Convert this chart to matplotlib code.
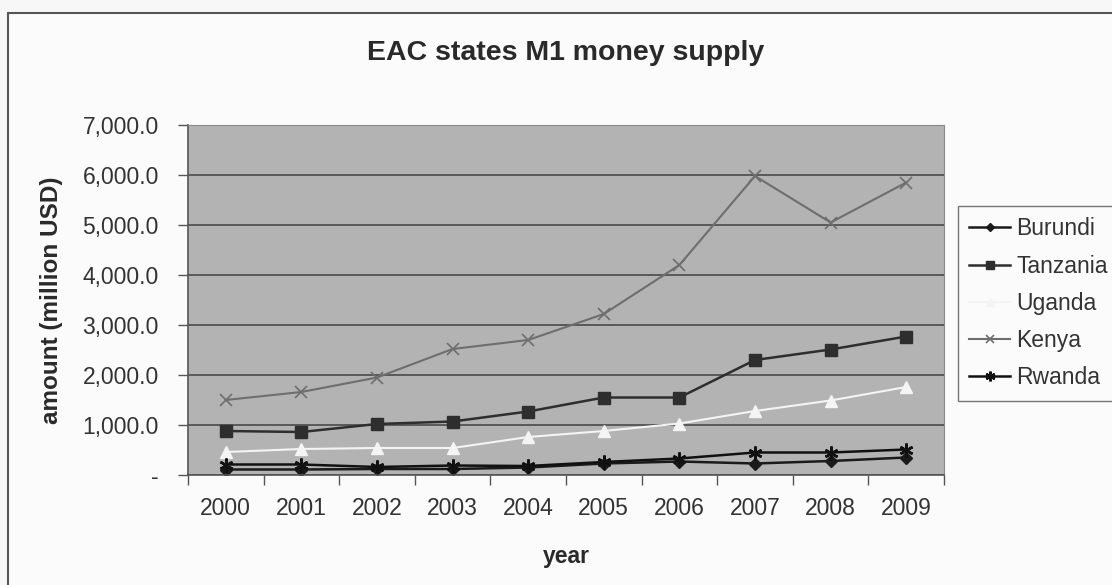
import matplotlib.pyplot as plt
from matplotlib.patches import Rectangle
from matplotlib.ticker import FuncFormatter, FixedLocator, NullFormatter

plt.rcParams['font.family'] = ['Liberation Sans', 'DejaVu Sans']

years = ['2000', '2001', '2002', '2003', '2004', '2005', '2006', '2007', '2008', '2009']
burundi = [110, 110, 120, 120, 150, 230, 270, 230, 280, 350]
tanzania = [880, 860, 1020, 1070, 1270, 1550, 1550, 2300, 2510, 2770]
uganda = [460, 520, 540, 540, 760, 880, 1030, 1280, 1490, 1760]
kenya = [1500, 1660, 1950, 2520, 2700, 3220, 4200, 5980, 5050, 5850]
rwanda = [210, 210, 160, 190, 180, 260, 330, 450, 450, 510]


def main():
    fig = plt.figure(figsize=(11.12, 5.85), dpi=100, facecolor='#f7f7f7')
    # chart frame like a spreadsheet chart object
    frame = Rectangle((8 / 1112, -0.02), 1.2, 1 - 13 / 585 + 0.02,
                      transform=fig.transFigure, facecolor='#fbfbfb',
                      edgecolor='#555555', linewidth=1.5, zorder=-5)
    fig.patches.append(frame)
    ax = fig.add_axes([188 / 1112, 1 - 475 / 585, (944 - 188) / 1112, (475 - 125) / 585])
    ax.set_facecolor('#b3b3b3')

    xs = [i + 0.5 for i in range(len(years))]
    ax.plot(xs, burundi, color='#1a1a1a', marker='D', markersize=6, lw=1.8, label='Burundi')
    ax.plot(xs, tanzania, color='#2e2e2e', marker='s', markersize=8, lw=1.8, label='Tanzania')
    ax.plot(xs, uganda, color='#f4f4f4', marker='^', markersize=8, lw=1.5, label='Uganda')
    ax.plot(xs, kenya, color='#6e6e6e', marker='x', markersize=9, lw=1.5,
            markeredgewidth=1.2, label='Kenya')
    ax.plot(xs, rwanda, color='#111111', marker=(6, 2, 0), markersize=10, lw=1.8,
            markeredgewidth=1.8, label='Rwanda')

    ax.set_xlim(0, len(years))
    ax.set_ylim(0, 7000)
    ax.set_yticks(range(0, 7001, 1000))
    ax.yaxis.set_major_formatter(FuncFormatter(lambda v, p: '-' if v == 0 else '{:,.1f}'.format(v)))
    ax.grid(axis='y', color='#4a4a4a', linewidth=1.2)
    ax.set_axisbelow(True)

    ax.xaxis.set_major_locator(FixedLocator(range(len(years) + 1)))
    ax.xaxis.set_major_formatter(NullFormatter())
    ax.xaxis.set_minor_locator(FixedLocator(xs))
    ax.set_xticklabels(years, minor=True)
    ax.tick_params(axis='x', which='minor', length=0, pad=16, labelsize=16.5, labelcolor='#333333')
    ax.tick_params(axis='x', which='major', length=7, width=1, color='#555555')
    ax.tick_params(axis='y', length=7, width=1, color='#555555', labelsize=16.5,
                   labelcolor='#333333', pad=14)

    for side in ['top', 'right']:
        ax.spines[side].set_color('#8a8a8a')
    for side in ['left', 'bottom']:
        ax.spines[side].set_color('#555555')
        ax.spines[side].set_linewidth(1.2)

    ax.set_xlabel('year', fontsize=16.5, fontweight='bold', color='#2a2a2a', labelpad=18)
    ax.set_ylabel('amount (million USD)', fontsize=17.5, fontweight='bold', color='#2a2a2a',
                  labelpad=14)
    fig.text(566 / 1112, 1 - 53 / 585, 'EAC states M1 money supply', ha='center', va='center',
             fontsize=20.5, fontweight='bold', color='#2a2a2a')

    leg = fig.legend(loc='upper left', bbox_to_anchor=(958 / 1112, 1 - 206 / 585),
                     fontsize=16.5, frameon=True, fancybox=False, handlelength=1.75,
                     handletextpad=0.3, labelspacing=0.62, borderpad=0.5,
                     borderaxespad=0, markerscale=0.7)
    leg.get_frame().set_edgecolor('#555555')
    leg.get_frame().set_facecolor('#fbfbfb')
    for t in leg.get_texts():
        t.set_color('#333333')

    fig.savefig('out.png', dpi=100, facecolor=fig.get_facecolor())


if __name__ == '__main__':
    main()
